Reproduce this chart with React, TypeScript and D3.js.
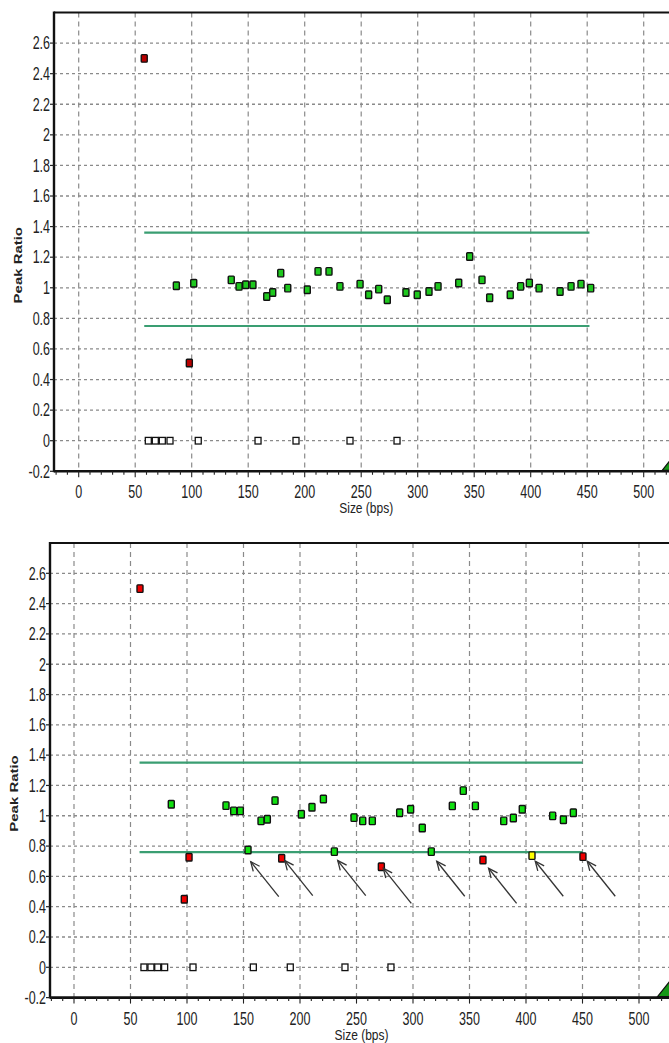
import React from 'react';
import * as d3 from 'd3';

// ---------- data ----------
const xTicks = [0, 50, 100, 150, 200, 250, 300, 350, 400, 450, 500];
const xMinorTicks = d3.range(-20, 560, 10);
const yTicks = [-0.2, 0, 0.2, 0.4, 0.6, 0.8, 1, 1.2, 1.4, 1.6, 1.8, 2, 2.2, 2.4, 2.6];
const yGrid = [0, 0.2, 0.4, 0.6, 0.8, 1, 1.2, 1.4, 1.6, 1.8, 2, 2.2, 2.4, 2.6];

// top panel
const topGreenSize = [86.4, 101.8, 135, 141.9, 147.8, 154.2, 166.4, 171.7, 178.8, 185, 202.3, 211.8, 221.5, 231.2, 249, 256.6, 265.5, 273.1, 289.6, 299.6, 310, 318, 336.3, 346, 356.9, 363.7, 381.9, 391.1, 398.8, 407.4, 426, 435.7, 444.5, 453.1];
const topGreenRatio = [1.013, 1.03, 1.052, 1.009, 1.02, 1.02, 0.943, 0.969, 1.096, 0.998, 0.987, 1.107, 1.107, 1.009, 1.024, 0.954, 0.991, 0.922, 0.969, 0.954, 0.976, 1.009, 1.031, 1.205, 1.052, 0.935, 0.954, 1.009, 1.031, 0.998, 0.976, 1.009, 1.024, 0.998];
const topRedSize = [58, 97.9];
const topRedRatio = [2.5, 0.508];
const topZeroSize = [61.6, 67.8, 74, 80.8, 105.8, 158.7, 192.3, 240.1, 281.7];

// bottom panel
const botGreenSize = [86.1, 134.5, 141.3, 147.2, 165.5, 171.1, 177.9, 201.2, 210.6, 220.7, 247.8, 255.5, 264, 288.2, 297.9, 308.2, 334.8, 344.5, 355.2, 380.3, 388.8, 396.7, 423.6, 433.1, 441.9, 154, 230.4, 316.2];
const botGreenRatio = [1.076, 1.067, 1.032, 1.032, 0.966, 0.977, 1.1, 1.01, 1.056, 1.111, 0.988, 0.966, 0.966, 1.02, 1.043, 0.919, 1.065, 1.166, 1.065, 0.966, 0.985, 1.043, 0.999, 0.974, 1.02, 0.774, 0.763, 0.763];
const botRedSize = [58.4, 97.6, 101.8, 183.8, 272, 361.9, 450.4];
const botRedRatio = [2.499, 0.449, 0.726, 0.72, 0.664, 0.708, 0.73];
const botYellowSize = [405.3];
const botYellowRatio = [0.737];
const botZeroSize = [61.9, 68.1, 74.1, 80.2, 105.3, 158.7, 191.4, 239.8, 280.5];

// arrow heads (annotation) in data units
const arrowSize = [156.4, 186.5, 233.4, 273.7, 321, 366.9, 408.2, 454.2];
const arrowRatio = [0.697, 0.704, 0.704, 0.653, 0.7, 0.653, 0.7, 0.7];

// thresholds
const thrStart = [58, 58];
const thrEnd = [452, 450];
const thrUpper = [1.36, 1.35];
const thrLower = [0.75, 0.76];
const endMarkerSize = 527;

// ---------- layout ----------
const W = 669, H = 1043;
const FONT = "'Liberation Sans', Arial, sans-serif";

type Pts = { size: number[]; ratio: number[]; fill: string };

interface PanelCfg {
  frameLeft: number;
  xRange: [number, number];
  yRange: [number, number];
  series: Pts[];
  zeros: number[];
  idx: number;
  arrows: boolean;
}

const panels: PanelCfg[] = [
  {
    frameLeft: 54, xRange: [78.7, 643.7], yRange: [471.3, 12.5], idx: 0, arrows: false,
    zeros: topZeroSize,
    series: [
      { size: topGreenSize, ratio: topGreenRatio, fill: '#1ec81e' },
      { size: topRedSize, ratio: topRedRatio, fill: '#b80000' },
    ],
  },
  {
    frameLeft: 50, xRange: [74, 639], yRange: [997.6, 543], idx: 1, arrows: true,
    zeros: botZeroSize,
    series: [
      { size: botGreenSize, ratio: botGreenRatio, fill: '#10e010' },
      { size: botRedSize, ratio: botRedRatio, fill: '#f00000' },
      { size: botYellowSize, ratio: botYellowRatio, fill: '#ffff00' },
    ],
  },
];

function Panel({ cfg }: { cfg: PanelCfg }) {
  const x = d3.scaleLinear().domain([0, 500]).range(cfg.xRange);
  const y = d3.scaleLinear().domain([-0.2, 2.8]).range(cfg.yRange);
  const axisY = y(-0.2);
  const top = y(2.8);
  const L = cfg.frameLeft;
  const mw = 6, mh = 7.5;
  return (
    <g>
      {/* grid */}
      {xTicks.map((t) => (
        <line key={'vx' + t} x1={x(t)} x2={x(t)} y1={top} y2={axisY} stroke="#8a8a8a" strokeWidth={1.2} strokeDasharray="5,4" />
      ))}
      {yGrid.map((t) => (
        <line key={'hy' + t} x1={L} x2={W} y1={y(t)} y2={y(t)} stroke="#8a8a8a" strokeWidth={1.3} strokeDasharray="3,3" />
      ))}
      {/* thresholds */}
      {[thrUpper[cfg.idx], thrLower[cfg.idx]].map((v, i) => (
        <line key={'thr' + i} x1={x(thrStart[cfg.idx])} x2={x(thrEnd[cfg.idx])} y1={y(v)} y2={y(v)} stroke="#3a9e72" strokeWidth={2.2} />
      ))}
      {/* frame */}
      <line x1={L} x2={W} y1={top} y2={top} stroke="#111" strokeWidth={2.2} />
      <line x1={L} x2={L} y1={top - 1} y2={axisY + 1} stroke="#111" strokeWidth={2.4} />
      <line x1={L} x2={W} y1={axisY} y2={axisY} stroke="#111" strokeWidth={2.6} />
      {/* x ticks */}
      {xMinorTicks.map((t) => (
        <line key={'mt' + t} x1={x(t)} x2={x(t)} y1={axisY} y2={axisY + (t % 50 === 0 ? 6 : 3.5)} stroke="#222" strokeWidth={1.1} />
      ))}
      {xTicks.map((t) => (
        <g key={'xl' + t} transform={`translate(${x(t)},${axisY + 27}) scale(1,1.4)`}>
          <text textAnchor="middle" fontFamily={FONT} fontSize={12.5} fill="#222">{t}</text>
        </g>
      ))}
      {/* y ticks */}
      {yTicks.map((t) => (
        <g key={'yt' + t}>
          <line x1={L - 4} x2={L} y1={y(t)} y2={y(t)} stroke="#222" strokeWidth={1.2} />
          <g transform={`translate(${L - 4},${y(t) + 6.3}) scale(1,1.45)`}>
            <text textAnchor="end" fontFamily={FONT} fontSize={12.5} fill="#222">{String(Math.round(t * 10) / 10)}</text>
          </g>
        </g>
      ))}
      {/* axis titles */}
      <g transform={`translate(${(x(0) + x(500)) / 2 + 5},${axisY + 42}) scale(1,1.15)`}>
        <text textAnchor="middle" fontFamily={FONT} fontSize={12} fill="#222">Size (bps)</text>
      </g>
      <g transform={`translate(${L - 32},${(y(1.4) + y(1.0)) / 2 + 8}) rotate(-90) scale(1.3,1)`}>
        <text textAnchor="middle" fontFamily={FONT} fontSize={11.5} fontWeight="bold" fill="#222">Peak Ratio</text>
      </g>
      {/* zero (open) markers */}
      {cfg.zeros.map((s, i) => (
        <rect key={'z' + i} x={x(s) - 3} y={y(0) - 3.3} width={6} height={6.6} fill="#fff" stroke="#111" strokeWidth={1.3} />
      ))}
      {/* filled markers */}
      {cfg.series.map((ser, si) =>
        ser.size.map((s, i) => (
          <rect key={'m' + si + '-' + i} x={x(s) - mw / 2} y={y(ser.ratio[i]) - mh / 2} width={mw} height={mh} rx={0.8} fill={ser.fill} stroke="#111" strokeWidth={1.4} />
        ))
      )}
      {/* end marker triangle */}
      <path
        d={`M${x(endMarkerSize)},${axisY - 16} L${x(endMarkerSize) + 12},${axisY - 1} L${x(endMarkerSize) - 12},${axisY - 1} Z`}
        fill="#169816" stroke="#111" strokeWidth={1.2}
      />
      {/* arrows */}
      {cfg.arrows &&
        arrowSize.map((s, i) => {
          const hx = x(s), hy = y(arrowRatio[i]);
          const tx = hx + 28, ty = hy + 35;
          const ang = Math.atan2(ty - hy, tx - hx);
          const len = 10, spread = 0.42;
          const a1 = [hx + len * Math.cos(ang - spread), hy + len * Math.sin(ang - spread)];
          const a2 = [hx + len * Math.cos(ang + spread), hy + len * Math.sin(ang + spread)];
          return (
            <g key={'ar' + i} stroke="#333" strokeWidth={1.3} fill="none">
              <line x1={hx} y1={hy} x2={tx} y2={ty} />
              <polyline points={`${a1[0]},${a1[1]} ${hx},${hy} ${a2[0]},${a2[1]}`} />
            </g>
          );
        })}
    </g>
  );
}

export default function App() {
  return (
    <svg width={W} height={H} viewBox={`0 0 ${W} ${H}`} style={{ position: 'absolute', left: 0, top: 0, background: '#fff' }}>
      <rect x={0} y={0} width={W} height={H} fill="#fff" />
      {panels.map((p) => (
        <Panel key={p.idx} cfg={p} />
      ))}
    </svg>
  );
}
